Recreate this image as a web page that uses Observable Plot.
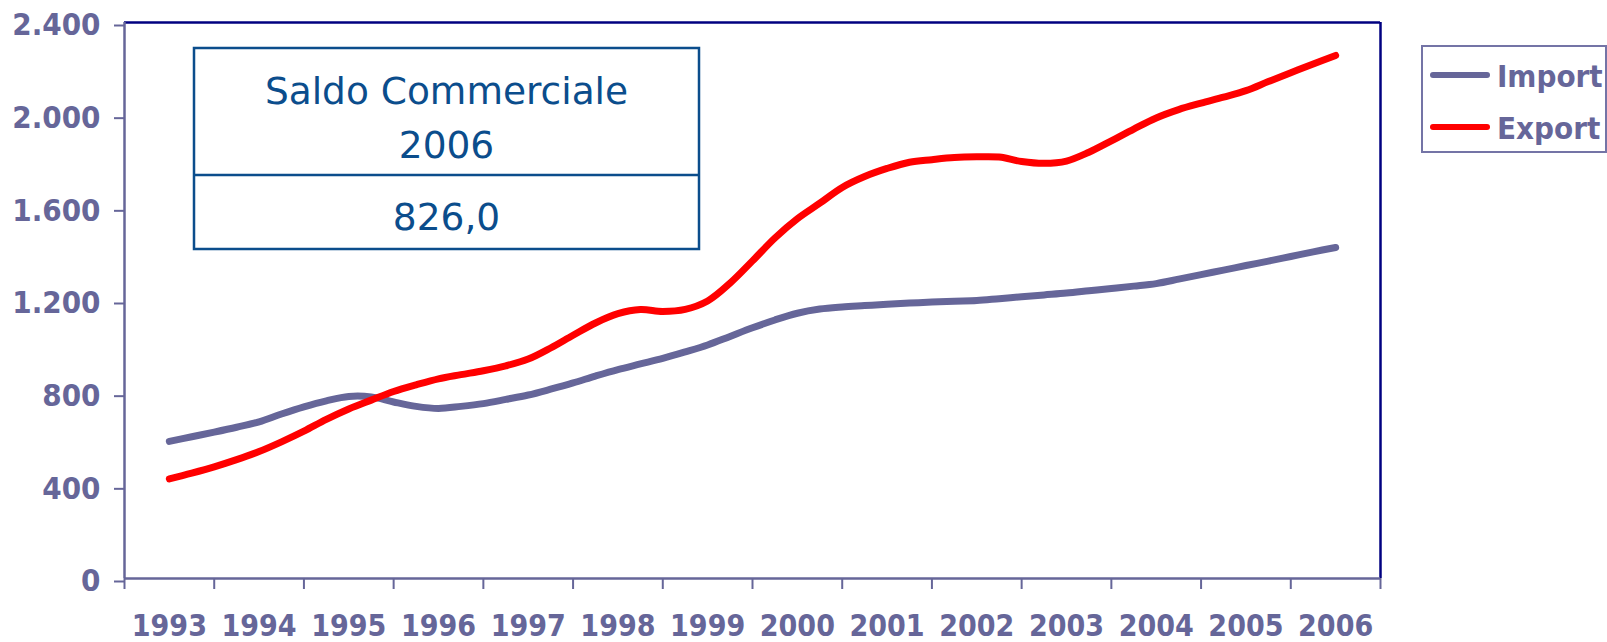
<!DOCTYPE html>
<html>
<head>
<meta charset="utf-8">
<script src="https://cdn.jsdelivr.net/npm/d3@7"></script>
<script src="https://cdn.jsdelivr.net/npm/@observablehq/plot@0.6"></script>
<style>
  html, body { margin: 0; padding: 0; background: #fff; }
  #chart svg { display: block; overflow: visible; }
</style>
</head>
<body>
<div id="chart"></div>
<script>
// ---- data ----
const years = [1993, 1994, 1995, 1996, 1997, 1998, 1999, 2000, 2001, 2002, 2003, 2004, 2005, 2006];
// observation times (year + fraction; year + 0.5 = middle of that year's slot)
const periods = [
  1993.5, 1993.75, 1994.0, 1994.25, 1994.5, 1994.75, 1995.0, 1995.25, 1995.5, 1995.75,
  1996.0, 1996.25, 1996.5, 1996.75, 1997.0, 1997.25, 1997.5, 1997.75, 1998.0, 1998.25,
  1998.5, 1998.75, 1999.0, 1999.25, 1999.5, 1999.75, 2000.0, 2000.25, 2000.5, 2000.75,
  2001.0, 2001.25, 2001.5, 2001.75, 2002.0, 2002.25, 2002.5, 2002.75, 2003.0, 2003.25,
  2003.5, 2003.75, 2004.0, 2004.25, 2004.5, 2004.75, 2005.0, 2005.25, 2005.5, 2005.75,
  2006.0, 2006.25, 2006.5
];
const importValues = [
  592, 612, 632, 653, 676, 710, 741, 767, 786, 784,
  762, 743, 734, 743, 755, 773, 792, 817, 844, 874,
  902, 926, 950, 978, 1008, 1045, 1082, 1116, 1145, 1163,
  1172, 1178, 1184, 1189, 1193, 1197, 1200, 1208, 1216, 1224,
  1232, 1242, 1252, 1262, 1273, 1292, 1312, 1331, 1351, 1370,
  1390, 1410, 1429
];
const exportValues = [
  430, 455, 482, 513, 548, 590, 636, 687, 732, 770,
  807, 836, 862, 880, 897, 918, 947, 995, 1050, 1103,
  1143, 1161, 1153, 1162, 1198, 1275, 1371, 1470, 1553, 1620,
  1688, 1735, 1770, 1797, 1808, 1817, 1820, 1819, 1800, 1792,
  1802, 1840, 1889, 1940, 1988, 2024, 2052, 2078, 2106, 2145,
  2183, 2221, 2258
];
const seriesNames = ["Import", "Export"];
const seriesColors = ["#666699", "#ff0000"];
const yTicks = [0, 400, 800, 1200, 1600, 2000, 2400];
const boxTitle = ["Saldo Commerciale", "2006"];
const boxValue = "826,0";

// ---- table ----
const rows = [];
periods.forEach((t, i) => {
  rows.push({t, value: importValues[i], series: seriesNames[0]});
});
periods.forEach((t, i) => {
  rows.push({t, value: exportValues[i], series: seriesNames[1]});
});

const itLocale = d3.formatLocale({decimal: ",", thousands: ".", grouping: [3], currency: ["", " €"]});
const fmt = itLocale.format(",d");

const axisColor = "#666699";
const frameColor = "#000080";
const boxColor = "#0b4d8c";
const tickFont = "'DejaVu Sans Condensed', 'DejaVu Sans', sans-serif";

const boundaries = years.concat([years[years.length - 1] + 1]);

const chart = Plot.plot({
  width: 1607,
  height: 642,
  marginLeft: 124,
  marginRight: 227,
  marginTop: 22,
  marginBottom: 64,
  x: {domain: [years[0], years[years.length - 1] + 1]},
  y: {domain: [0, 2400]},
  color: {domain: seriesNames, range: seriesColors},
  style: {background: "#fff", overflow: "visible"},
  marks: [
    Plot.ruleY([2400], {stroke: frameColor, strokeWidth: 2.5}),
    Plot.ruleX([boundaries[boundaries.length - 1]], {stroke: frameColor, strokeWidth: 2.5}),
    Plot.line(rows, {
      x: "t", y: "value", z: "series", stroke: "series",
      strokeWidth: 7, curve: "catmull-rom", strokeLinecap: "round", strokeLinejoin: "round"
    }),
    Plot.ruleX([boundaries[0]], {stroke: axisColor, strokeWidth: 2.5}),
    Plot.ruleY([0], {stroke: axisColor, strokeWidth: 2.5}),
    Plot.axisY(yTicks, {
      tickSize: 10, tickPadding: 14, tickFormat: fmt, color: axisColor, strokeWidth: 2,
      fontSize: 31, fontWeight: "bold", fontFamily: tickFont, dy: 3, label: null
    }),
    Plot.axisX(boundaries, {
      tickSize: 11, tickFormat: () => "", color: axisColor, strokeWidth: 2, label: null
    }),
    Plot.axisX(years.map(y => y + 0.5), {
      tickSize: 0, tickPadding: 36, tickFormat: d => String(Math.floor(d)), color: axisColor,
      fontSize: 30, fontWeight: "bold", fontFamily: tickFont, label: null
    })
  ]
});

document.getElementById("chart").appendChild(chart);

// ---- annotation box & legend ----
const svg = d3.select(chart);
const box = svg.append("g");
const bx = 194, by = 48, bw = 505, bh = 201, bdiv = 175;
box.append("rect").attr("x", bx).attr("y", by).attr("width", bw).attr("height", bh)
  .attr("fill", "#fff").attr("stroke", boxColor).attr("stroke-width", 2.5);
box.append("line").attr("x1", bx).attr("x2", bx + bw).attr("y1", bdiv).attr("y2", bdiv)
  .attr("stroke", boxColor).attr("stroke-width", 2.5);
const boxTextY = [104, 158];
boxTitle.forEach((s, i) => {
  box.append("text").attr("x", bx + bw / 2).attr("y", boxTextY[i]).attr("text-anchor", "middle")
    .attr("fill", boxColor).style("font-family", "'DejaVu Sans', sans-serif").style("font-size", "37.5px")
    .text(s);
});
box.append("text").attr("x", bx + bw / 2).attr("y", 230).attr("text-anchor", "middle")
  .attr("fill", boxColor).style("font-family", "'DejaVu Sans', sans-serif").style("font-size", "37.5px")
  .text(boxValue);

const lg = svg.append("g");
lg.append("rect").attr("x", 1422).attr("y", 46).attr("width", 184).attr("height", 106)
  .attr("fill", "#fff").attr("stroke", "#7474a6").attr("stroke-width", 2);
const legendY = [75, 127];
seriesNames.forEach((name, i) => {
  lg.append("line").attr("x1", 1433).attr("x2", 1487).attr("y1", legendY[i]).attr("y2", legendY[i])
    .attr("stroke", seriesColors[i]).attr("stroke-width", 6).attr("stroke-linecap", "round");
  lg.append("text").attr("x", 1497).attr("y", legendY[i] + 12).attr("text-anchor", "start")
    .attr("fill", axisColor).style("font-family", tickFont).style("font-weight", "bold")
    .style("font-size", "31px").text(name);
});
</script>
</body>
</html>
